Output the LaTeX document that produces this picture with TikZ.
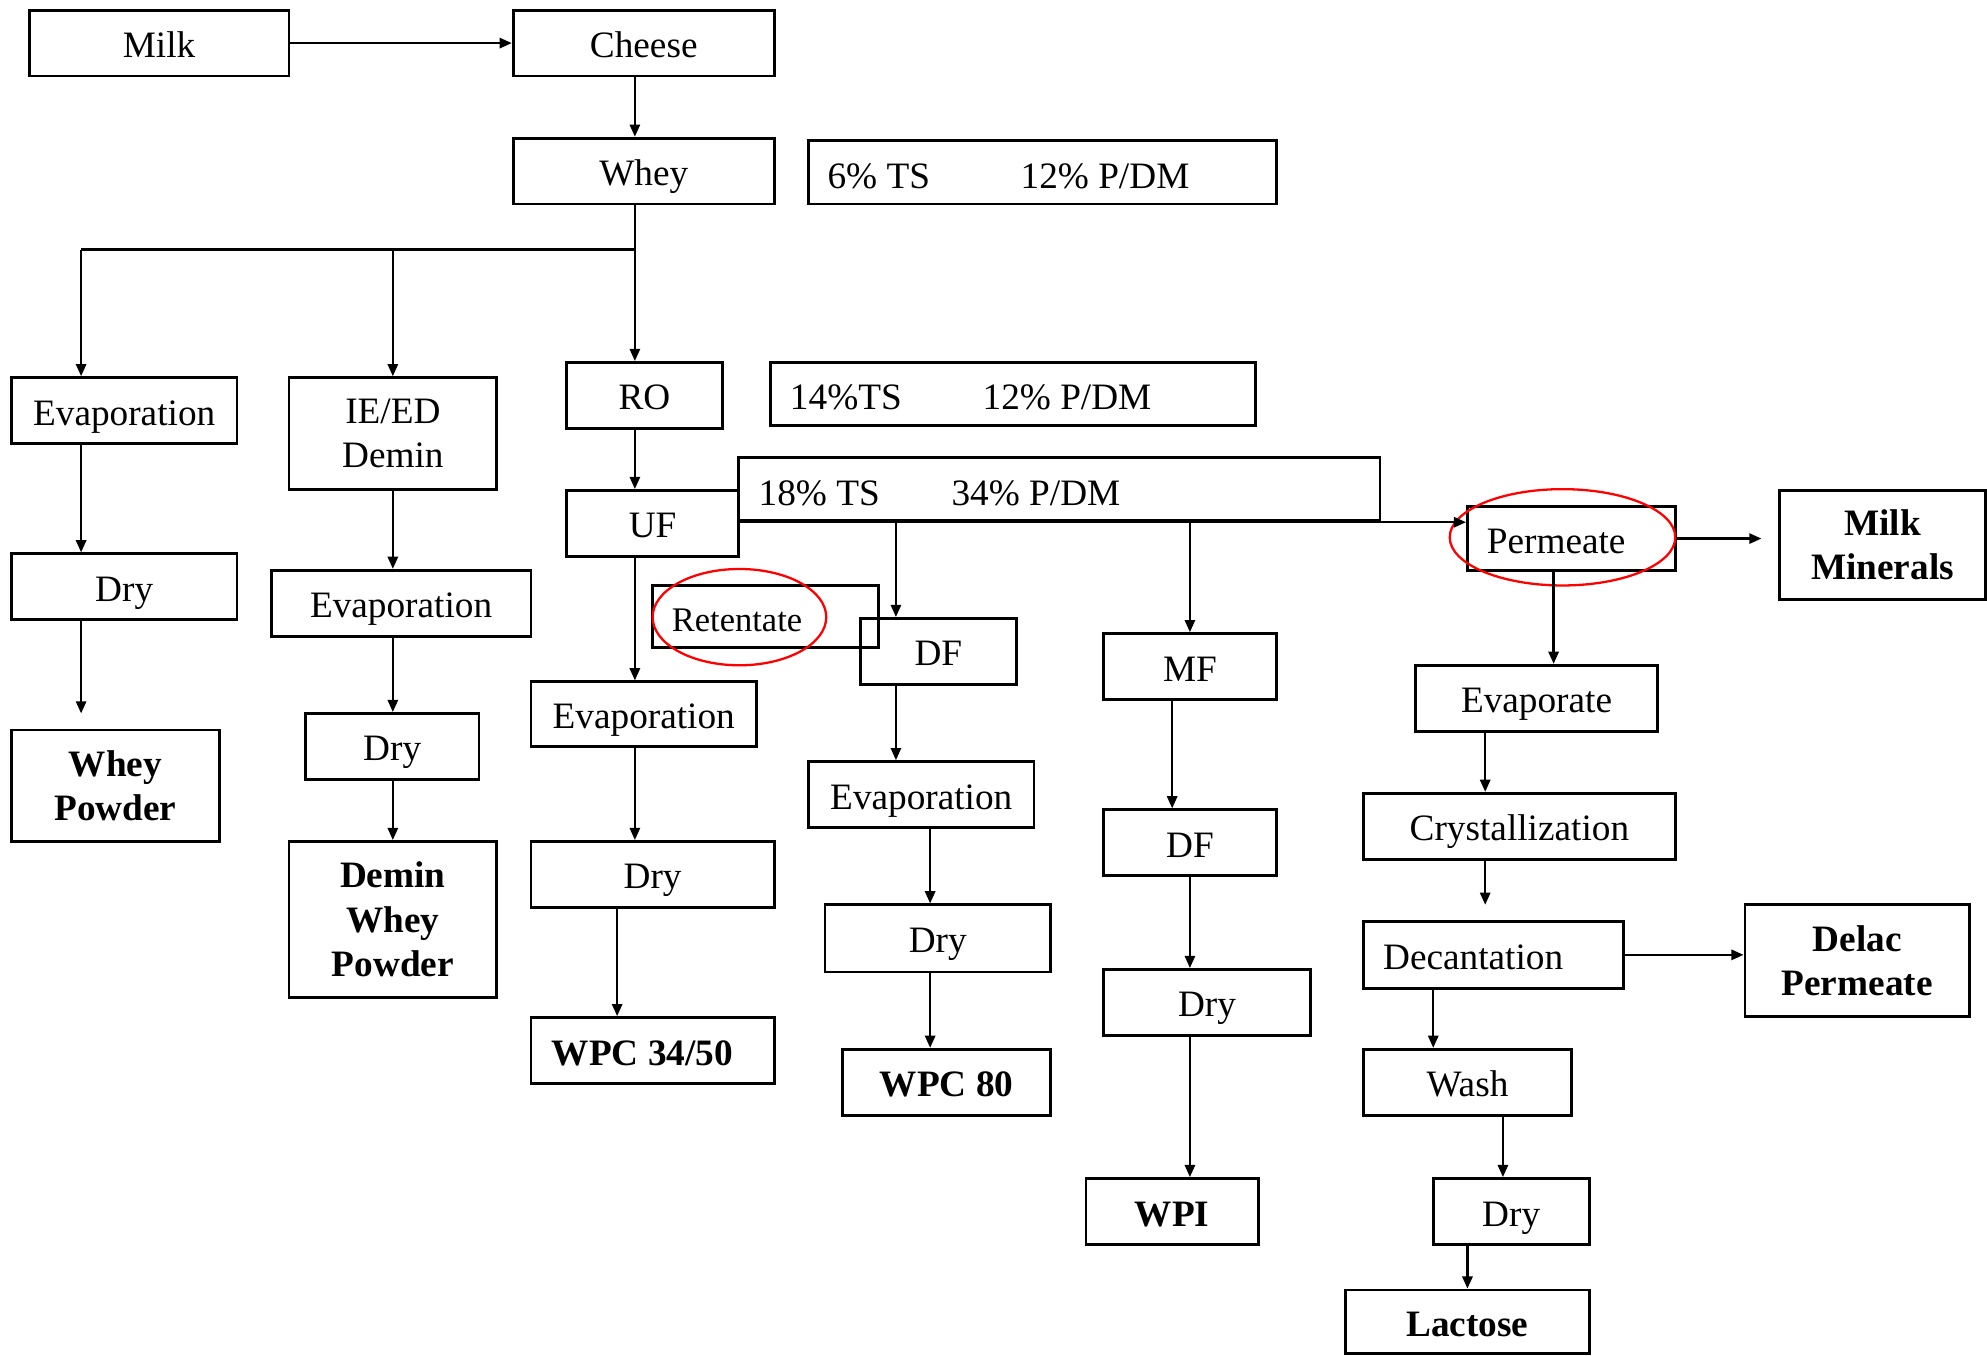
\documentclass[tikz,border=0pt]{standalone}
\usepackage{fontspec}
\setmainfont{Liberation Serif}
\usetikzlibrary{arrows.meta}
\newdimen\pu \pu=0.5pt
\newcommand\shl[2]{\kern-#1\relax #2\kern#1\relax}
\tikzset{
  box/.style={draw, line width=1.1pt, inner sep=0pt, font=\fontsize{14.7pt}{17.6pt}\selectfont, text height=11.5pt, text depth=0pt},
  mbox/.style={draw, line width=1.1pt, inner sep=0pt, align=center, font=\fontsize{14.7pt}{17.6pt}\selectfont\bfseries},
  ibox/.style={draw, line width=1.1pt, inner sep=0pt},
  info/.style={inner sep=0pt, font=\fontsize{14.7pt}{17.6pt}\selectfont, text height=11pt, text depth=0pt},
  arr/.style={line width=0.95pt, -{Triangle[length=4.8pt,width=4pt]}},
  ln/.style={line width=0.95pt},
  ring/.style={draw=red, line width=0.9pt}
}
\begin{document}
\begin{tikzpicture}[x=0.5pt,y=-0.5pt]
\useasboundingbox (0,0) rectangle (1568,1070);
% top row
\node[box, minimum width=205*\pu, minimum height=52*\pu] (milk) at (125.5,34) {Milk};
\node[box, minimum width=206*\pu, minimum height=52*\pu] (cheese) at (508,34) {Cheese};
\node[box, minimum width=206*\pu, minimum height=52*\pu] (whey) at (508,135) {Whey};
% info boxes
\node[ibox, minimum width=369*\pu, minimum height=50*\pu] (ts1) at (822.5,136) {};
\node[info] (ts1a) at (693.5,138) {6\% TS};
\node[info] (ts1b) at (872,138) {12\% P/DM};
\node[ibox, minimum width=383*\pu, minimum height=50*\pu] (ts2) at (799.5,311) {};
\node[info] (ts2a) at (667.5,312) {14\%TS};
\node[info] (ts2b) at (842,312) {12\% P/DM};
\node[ibox, minimum width=506*\pu, minimum height=50*\pu] (ts3) at (836,386) {};
\node[info] (ts3a) at (646.5,388) {18\% TS};
\node[info] (ts3b) at (817.5,388) {34\% P/DM};
% column A
\node[box, minimum width=178*\pu, minimum height=52*\pu] (evapA) at (98,324) {Evaporation};
\node[box, minimum width=178*\pu, minimum height=52*\pu] (dryA) at (98,463) {Dry};
\node[mbox, minimum width=164*\pu, minimum height=88*\pu] (wp) at (91,620) {Whey\\Powder};
% column B
\node[ibox, align=center, font=\fontsize{14.7pt}{17.6pt}\selectfont, minimum width=164*\pu, minimum height=88*\pu] (ieed) at (310,342) {IE/ED\\Demin};
\node[box, minimum width=205*\pu, minimum height=52*\pu] (evapB) at (316.5,476) {Evaporation};
\node[box, minimum width=137*\pu, minimum height=52*\pu] (dryB) at (309.5,589) {Dry};
\node[mbox, minimum width=164*\pu, minimum height=123*\pu] (dwp) at (310,725.5) {Demin\\Whey\\Powder};
% column C
\node[box, minimum width=123*\pu, minimum height=52*\pu] (ro) at (508.5,312) {RO};
\node[box, minimum width=136*\pu, minimum height=52*\pu] (uf) at (515,413) {UF};
\node[box, minimum width=178*\pu, minimum height=51*\pu] (evapC) at (508,563.5) {Evaporation};
\node[box, minimum width=192*\pu, minimum height=52*\pu] (dryC) at (515,690) {Dry};
\node[box, minimum width=192*\pu, minimum height=52*\pu, font=\fontsize{14.7pt}{17.6pt}\selectfont\bfseries] (wpcA) at (515,829) {\shl{4pt}{WPC 34/50}};
% retentate / column D
\node[box, minimum width=178*\pu, minimum height=49*\pu, font=\fontsize{13.6pt}{16pt}\selectfont] (ret) at (604,486.5) {\shl{11.2pt}{Retentate}};
\node[box, minimum width=123*\pu, minimum height=52*\pu] (dfA) at (740.5,514) {DF};
\node[box, minimum width=178*\pu, minimum height=52*\pu] (evapD) at (727,627) {Evaporation};
\node[box, minimum width=178*\pu, minimum height=53*\pu] (dryD) at (740,740.5) {Dry};
\node[box, minimum width=164*\pu, minimum height=52*\pu, font=\fontsize{14.7pt}{17.6pt}\selectfont\bfseries] (wpcB) at (747,854) {WPC 80};
% column E
\node[box, minimum width=136*\pu, minimum height=52*\pu] (mf) at (939,526) {MF};
\node[box, minimum width=136*\pu, minimum height=52*\pu] (dfB) at (939,665) {DF};
\node[box, minimum width=163*\pu, minimum height=52*\pu] (dryE) at (952.5,791) {Dry};
\node[box, minimum width=136*\pu, minimum height=52*\pu, font=\fontsize{14.7pt}{17.6pt}\selectfont\bfseries] (wpi) at (925,956) {WPI};
% permeate column
\node[box, minimum width=164*\pu, minimum height=50*\pu] (perm) at (1240,425) {\shl{6pt}{Permeate}};
\node[mbox, minimum width=163*\pu, minimum height=86*\pu] (mm) at (1485.5,430) {Milk\\Minerals};
\node[box, minimum width=191*\pu, minimum height=52*\pu] (evaporate) at (1212.5,551) {Evaporate};
\node[box, minimum width=246*\pu, minimum height=52*\pu] (cryst) at (1199,652) {Crystallization};
\node[box, minimum width=205*\pu, minimum height=53*\pu] (decant) at (1178.5,753.5) {\shl{8pt}{Decantation}};
\node[mbox, minimum width=177*\pu, minimum height=88*\pu] (delac) at (1465.5,758) {Delac\\Permeate};
\node[box, minimum width=164*\pu, minimum height=52*\pu] (wash) at (1158,854) {Wash};
\node[box, minimum width=123*\pu, minimum height=52*\pu] (dryF) at (1192.5,956) {Dry};
\node[box, minimum width=192*\pu, minimum height=50*\pu, font=\fontsize{14.7pt}{17.6pt}\selectfont\bfseries] (lac) at (1158,1043) {Lactose};
% red rings
\draw[ring] (583.5,487) ellipse [x radius=68.5, y radius=38];
\draw[ring] (1233,424) ellipse [x radius=89, y radius=38];
% helper coordinates
\coordinate (jw) at (501,197);
\coordinate (jl) at (64,197);
\coordinate (jm) at (310,197);
\coordinate (xc2) at (487,0);
\coordinate (xd1) at (707,411);
\coordinate (xd2) at (734,0);
\coordinate (xe1) at (925,0);
\coordinate (xp1) at (1226,0);
\coordinate (xp2) at (1172,0);
\coordinate (xp3) at (1131,0);
\coordinate (xp4) at (1186,0);
\coordinate (xp5) at (1158,0);
\coordinate (mmend) at (1390,425);
\coordinate (crend) at (1172,714);
\coordinate (drAend) at (64,563);
% connectors
\draw[arr] (milk.east) -- (cheese.west);
\draw[arr] (cheese.south -| jw) -- (whey.north -| jw);
\draw[arr] (whey.south -| jw) -- (ro.north -| jw);
\draw[ln] (jl) -- (jw);
\draw[arr] (jl) -- (evapA.north -| jl);
\draw[arr] (jm) -- (ieed.north -| jm);
\draw[arr] (ro.south -| jw) -- (uf.north -| jw);
\draw[arr] (uf.south -| jw) -- (evapC.north -| jw);
\draw[arr] (evapC.south -| jw) -- (dryC.north -| jw);
\draw[arr] (dryC.south -| xc2) -- (wpcA.north -| xc2);
\draw[arr] (uf.east |- ts3.south) -- (perm.west |- ts3.south);
\draw[arr] (xd1) -- (dfA.north -| xd1);
\draw[arr] (mf.north |- ts3.south) -- (mf.north);
\draw[arr] (dfA.south -| xd1) -- (evapD.north -| xd1);
\draw[arr] (evapD.south -| xd2) -- (dryD.north -| xd2);
\draw[arr] (dryD.south -| xd2) -- (wpcB.north -| xd2);
\draw[arr] (mf.south -| xe1) -- (dfB.north -| xe1);
\draw[arr] (dfB.south) -- (dryE.north -| dfB.south);
\draw[arr] (dryE.south -| dfB.south) -- (wpi.north -| dfB.south);
\draw[arr] (perm.east) -- (mmend);
\draw[arr] (perm.south -| xp1) -- (evaporate.north -| xp1);
\draw[arr] (evaporate.south -| xp2) -- (cryst.north -| xp2);
\draw[arr] (cryst.south -| xp2) -- (crend);
\draw[arr] (decant.east) -- (delac.west |- decant.east);
\draw[arr] (decant.south -| xp3) -- (wash.north -| xp3);
\draw[arr] (wash.south -| xp4) -- (dryF.north -| xp4);
\draw[arr] (dryF.south -| xp5) -- (lac.north -| xp5);
\draw[arr] (evapA.south -| jl) -- (dryA.north -| jl);
\draw[arr] (dryA.south -| jl) -- (drAend);
\draw[arr] (ieed.south -| jm) -- (evapB.north -| jm);
\draw[arr] (evapB.south -| jm) -- (dryB.north -| jm);
\draw[arr] (dryB.south -| jm) -- (dwp.north -| jm);
\end{tikzpicture}
\end{document}
